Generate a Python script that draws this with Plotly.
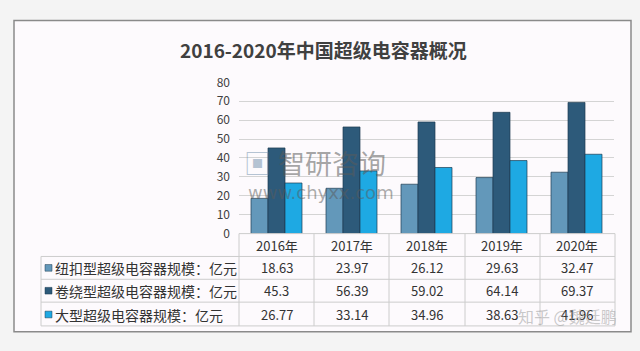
import plotly.graph_objects as go

years = ["2016年", "2017年", "2018年", "2019年", "2020年"]
series_names = ["纽扣型超级电容器规模：亿元", "卷绕型超级电容器规模：亿元", "大型超级电容器规模：亿元"]
button_vals = [18.63, 23.97, 26.12, 29.63, 32.47]
wound_vals = [45.3, 56.39, 59.02, 64.14, 69.37]
large_vals = [26.77, 33.14, 34.96, 38.63, 41.96]
y_ticks = [0, 10, 20, 30, 40, 50, 60, 70, 80]

W, H = 640, 351
def px(x): return x / W
def py(y): return 1 - y / H

colors = ["#6398ba", "#2d5a7a", "#1ea9e3"]
all_vals = [button_vals, wound_vals, large_vals]
FONT = "Noto Sans CJK SC"

fig = go.Figure()
for name, vals, c in zip(series_names, all_vals, colors):
    fig.add_trace(go.Bar(x=years, y=vals, name=name, marker=dict(color=c, line=dict(color="#1d3b50", width=0.7)),
                         showlegend=False))

plot_l, plot_r, plot_t, plot_b = 239, 614, 76, 235
rows_y = [259, 283, 307, 332]
table_l = 41

shapes = []
shapes.append(dict(type="rect", xref="paper", yref="paper", x0=px(14), x1=px(631), y0=py(338), y1=py(11),
                   line=dict(color="#8a8a8a", width=1.5), fillcolor="#fdfafd", layer="below"))
line_c = "#cccccc"
col_edges = [239, 314, 389, 465, 540, 615]
for xe in col_edges:
    shapes.append(dict(type="line", xref="paper", yref="paper", x0=px(xe), x1=px(xe), y0=py(plot_b), y1=py(rows_y[-1]),
                       line=dict(color=line_c, width=1)))
shapes.append(dict(type="line", xref="paper", yref="paper", x0=px(table_l), x1=px(table_l), y0=py(rows_y[0]), y1=py(rows_y[-1]),
                   line=dict(color=line_c, width=1)))
for ye in rows_y:
    shapes.append(dict(type="line", xref="paper", yref="paper", x0=px(table_l), x1=px(615), y0=py(ye), y1=py(ye),
                       line=dict(color=line_c, width=1)))
shapes.append(dict(type="line", xref="paper", yref="paper", x0=px(239), x1=px(615), y0=py(plot_b), y1=py(plot_b),
                   line=dict(color=line_c, width=1)))

def ann(text, x, y, size, color="#333333", xref="paper", xanchor="center", family=FONT):
    return dict(text=text, xref=xref, yref="paper", x=x, y=y, xanchor=xanchor, yanchor="middle",
                showarrow=False, font=dict(size=size, color=color, family=family))

annotations = []
annotations.append(ann("<b>2016-2020年中国超级电容器概况</b>", px(323), py(41), 19, "#404040"))
for yr in years:
    annotations.append(ann(yr, yr, py(247), 13, xref="x"))
row_centers = [271, 295, 320]
for name, vals, c, rc in zip(series_names, all_vals, colors, row_centers):
    shapes.append(dict(type="rect", xref="paper", yref="paper", x0=px(45), x1=px(52), y0=py(rc + 3.5), y1=py(rc - 3.5),
                       fillcolor=c, line=dict(color="#1d3b50", width=0.5)))
    annotations.append(ann(name, px(53), py(rc), 14, xanchor="left"))
    for yr, v in zip(years, vals):
        annotations.append(ann(f"{v:g}", yr, py(rc), 13, xref="x"))
# watermarks
annotations.append(ann("智研咨询", px(332), py(160), 27, "rgba(90,90,90,0.55)"))
annotations.append(ann("▣", px(257), py(160), 27, "rgba(110,140,170,0.5)"))
annotations.append(ann("www.chyxx.com", px(321), py(192), 18, "rgba(90,90,90,0.5)", family="DejaVu Sans"))
annotations.append(ann("知乎 @魏廷鹏", px(567), py(322), 16, "rgba(150,150,150,0.5)"))

fig.update_layout(
    width=W, height=H, margin=dict(l=0, r=0, t=0, b=0),
    paper_bgcolor="#f4f4f4", plot_bgcolor="rgba(0,0,0,0)",
    barmode="group", bargap=0.32, bargroupgap=0,
    shapes=shapes, annotations=annotations,
    xaxis=dict(domain=[px(plot_l), px(plot_r)], showticklabels=False, showgrid=False, zeroline=False,
               showline=False, ticks=""),
    yaxis=dict(domain=[py(plot_b), py(plot_t)], range=[0, 80], tickvals=y_ticks, showgrid=True,
               gridcolor="#d4d4d4", gridwidth=1, zeroline=False, showline=False, ticks="",
               tickfont=dict(size=12, color="#404040", family=FONT), ticklabelstandoff=8),
    font=dict(family=FONT),
)

fig.write_html("out.html")
